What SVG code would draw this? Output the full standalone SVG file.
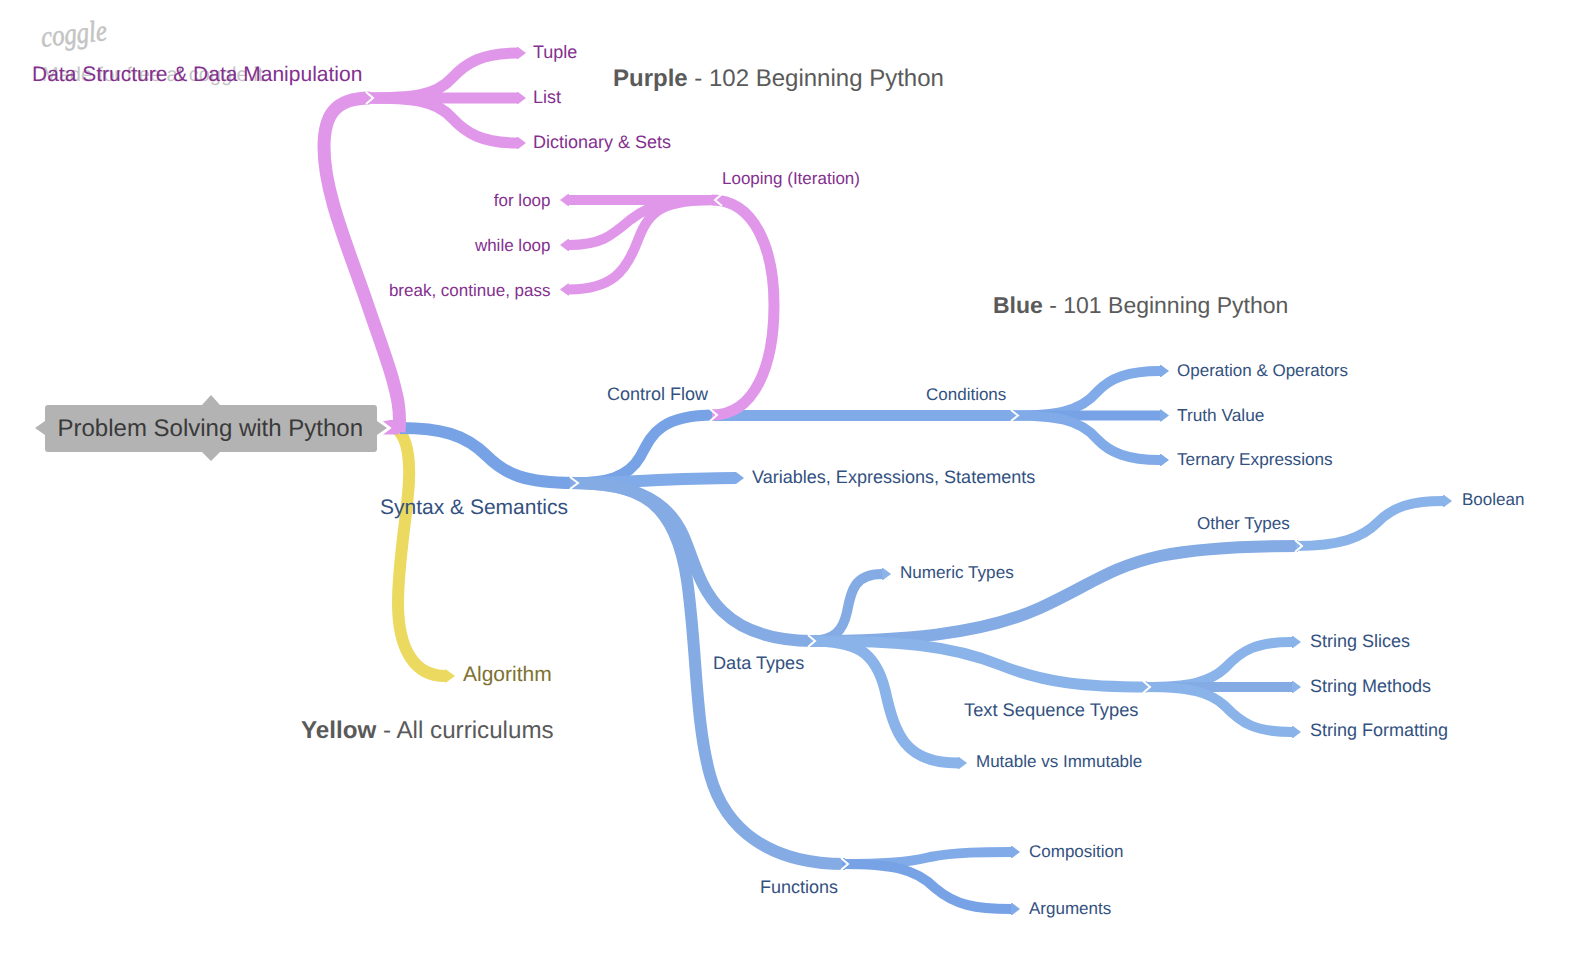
<svg xmlns="http://www.w3.org/2000/svg" width="1570" height="968" viewBox="0 0 1570 968">
<style>
text{font-family:"Liberation Sans",Arial,sans-serif;text-rendering:geometricPrecision}
.b{fill:none;stroke-linecap:butt}
.p{stroke:#e097ea}.y{stroke:#ecd960}
.b1{stroke:#77a3e6}.b2{stroke:#80aae8}.b3{stroke:#84abe4}.b4{stroke:#8ab3ea}
.n{fill:none;stroke:#fff;stroke-width:2}
.lp{fill:#84308f}.lb{fill:#33517f}.ly{fill:#7d7230}.note{fill:#5a5a5a}
</style>
<defs>
<marker id="mp" markerUnits="userSpaceOnUse" markerWidth="12" markerHeight="14" refX="0" refY="7" orient="auto"><path d="M0 1L1 1L9 7L1 13L0 13Z" fill="#e097ea"/></marker>
<marker id="my" markerUnits="userSpaceOnUse" markerWidth="12" markerHeight="14" refX="0" refY="7" orient="auto"><path d="M0 .5L1 .5L10 7L1 13.5L0 13.5Z" fill="#ecd960"/></marker>
<marker id="m1" markerUnits="userSpaceOnUse" markerWidth="12" markerHeight="14" refX="0" refY="7" orient="auto"><path d="M0 1L1 1L9 7L1 13L0 13Z" fill="#80aae8"/></marker>
<marker id="m3" markerUnits="userSpaceOnUse" markerWidth="12" markerHeight="14" refX="0" refY="7" orient="auto"><path d="M0 1L1 1L9 7L1 13L0 13Z" fill="#8ab3ea"/></marker>
</defs>

<g id="watermark">
<text x="42" y="47" font-size="30" font-style="italic" fill="#c4c4c4" stroke="#c4c4c4" stroke-width=".6" style="font-family:'Liberation Serif',serif" textLength="66" lengthAdjust="spacingAndGlyphs" transform="rotate(-6 42 47)">coggle</text>
<text x="42" y="81" font-size="20" fill="#c4c4c4">Made for free at coggle.it</text>
</g>

<g id="connectors">
<path class="b y" stroke-width="12" d="M396 428C406 436 410 455 409 480C408 510 398 560 398 603C398 650 415 676 445 676" marker-end="url(#my)"/>
<path class="b b1" stroke-width="12" d="M400 428C440 428 465 434 487 456C505 474 525 483 574 483"/>
<path class="b b1" stroke-width="11" d="M572 483C605 483 628 478 640 457C650 440 655 415 714 415"/>
<path class="b b2" stroke-width="12" d="M572 483C625 483 670 478 735 478" marker-end="url(#m1)"/>
<path class="b b2" stroke-width="11" d="M714 415.500L1014 415.500"/>
<path class="b b2" stroke-width="10" d="M1012 415.500C1055 415.500 1080 412 1097 392C1110 378 1128 371 1160 371" marker-end="url(#m1)"/>
<path class="b b1" stroke-width="10" d="M1012 415.500L1160 415.500" marker-end="url(#m1)"/>
<path class="b b2" stroke-width="10" d="M1012 415.500C1055 415.500 1080 419 1097 439C1110 453 1128 460 1160 460" marker-end="url(#m1)"/>
<path class="b b3" stroke-width="12" d="M570 483C625 483 665 495 683 535C700 572 705 640 812 641"/>
<path class="b b3" stroke-width="12" d="M570 483C640 483 675 500 687 580C697 650 695 720 710 775C725 830 770 864 845 864"/>
<path class="b b3" stroke-width="10" d="M810 641C835 641 843 630 847 612C851 590 855 574 882 574" marker-end="url(#m3)"/>
<path class="b b3" stroke-width="12" d="M810 641C900 641 980 635 1040 608C1090 585 1110 567 1160 556C1200 548 1250 546 1298 546"/>
<path class="b b4" stroke-width="10" d="M1296 546C1340 546 1362 538 1378 522C1393 507 1410 501 1443 501" marker-end="url(#m3)"/>
<path class="b b4" stroke-width="11" d="M810 641C900 641 950 645 1000 665C1045 683 1085 687 1147 687"/>
<path class="b b4" stroke-width="11" d="M810 641C855 641 875 650 885 690C895 735 905 763 958 763" marker-end="url(#m3)"/>
<path class="b b4" stroke-width="10" d="M1145 687C1190 687 1210 682 1225 668C1242 650 1256 642 1292 642" marker-end="url(#m3)"/>
<path class="b b3" stroke-width="10" d="M1145 687L1292 687" marker-end="url(#m3)"/>
<path class="b b4" stroke-width="10" d="M1145 687C1190 687 1210 692 1225 706C1242 724 1256 732 1292 732" marker-end="url(#m3)"/>
<path class="b b2" stroke-width="10" d="M842 864C880 864 905 863 930 857C955 852 985 852 1011 852" marker-end="url(#m1)"/>
<path class="b b1" stroke-width="10" d="M842 864C890 864 915 868 935 888C955 905 975 909 1011 909" marker-end="url(#m1)"/>
<path class="b p" stroke-width="13" d="M399 432C401 410 397 395 392 377C384 350 375 327 365 297C345 240 324 190 324 147C324 115 335 98 370 98"/>
<path class="b p" stroke-width="11" d="M366 98C412 98 436 96 452 78C466 63 482 53 517 53" marker-end="url(#mp)"/>
<path class="b p" stroke-width="11" d="M366 98L517 98" marker-end="url(#mp)"/>
<path class="b p" stroke-width="11" d="M366 98C412 98 436 100 452 118C466 133 482 143 517 143" marker-end="url(#mp)"/>
<path class="b p" stroke-width="11" d="M712 200C755 200 774 250 774 305C774 365 755 415 712 415"/>
<path class="b p" stroke-width="10" d="M718 200L569 200" marker-end="url(#mp)"/>
<path class="b p" stroke-width="10" d="M718 200C680 200 655 200 630 220C610 237 600 245 569 245" marker-end="url(#mp)"/>
<path class="b p" stroke-width="10" d="M718 200C665 200 650 208 638 240C626 272 612 289 569 289.500" marker-end="url(#mp)"/>
<path d="M382 421.500L390 428L382 434.500H398Q404 430 404 425L403 420H390Z" fill="#e097ea"/>
<polyline class="n" points="381,421 390,428 381,435"/>
<polyline class="n" points="366,92 373,98 366,104"/>
<polyline class="n" points="722,194 715,200 722,206"/>
<polyline class="n" points="710,409 717,415 710,421"/>
<polyline class="n" points="570,477 578,483 570,489"/>
<polyline class="n" points="1011,410 1018,415.500 1011,421"/>
<polyline class="n" points="808,635 815,641 808,647"/>
<polyline class="n" points="841,858 848,864 841,870"/>
<polyline class="n" points="1143,681 1150,687 1143,693"/>
<polyline class="n" points="1295,540 1302,546 1295,552"/>
</g>

<g id="root">
<path d="M211 395L220 405H374a3 3 0 0 1 3 3V421L387 428L377 435V449a3 3 0 0 1-3 3H220L211 461L202 452H48a3 3 0 0 1-3-3V435L35 428L45 421V408a3 3 0 0 1 3-3H202Z" fill="#b3b3b3"/>
<text x="57.500" y="436" font-size="24" fill="#3a3a3a">Problem Solving with Python</text>
</g>
<g id="n-dsdm"><text x="32" y="81" font-size="21" class="lp">Data Structure &amp; Data Manipulation</text></g>
<g id="n-tuple"><text x="533" y="58" font-size="18" class="lp">Tuple</text></g>
<g id="n-list"><text x="533" y="103" font-size="18" class="lp">List</text></g>
<g id="n-dict"><text x="533" y="148" font-size="18" class="lp">Dictionary &amp; Sets</text></g>
<g id="n-loop"><text x="722" y="184" font-size="17" class="lp">Looping (Iteration)</text></g>
<g id="n-for"><text x="550.500" y="206" font-size="17" text-anchor="end" class="lp">for loop</text></g>
<g id="n-while"><text x="550.500" y="251" font-size="17" text-anchor="end" class="lp">while loop</text></g>
<g id="n-break"><text x="550.500" y="296" font-size="17" text-anchor="end" class="lp">break, continue, pass</text></g>
<g id="n-syntax"><text x="380" y="514" font-size="21" class="lb">Syntax &amp; Semantics</text></g>
<g id="n-cf"><text x="607" y="400" font-size="18" class="lb">Control Flow</text></g>
<g id="n-cond"><text x="926" y="400" font-size="17" class="lb">Conditions</text></g>
<g id="n-op"><text x="1177" y="376" font-size="17" class="lb">Operation &amp; Operators</text></g>
<g id="n-truth"><text x="1177" y="421" font-size="17.300" class="lb">Truth Value</text></g>
<g id="n-tern"><text x="1177" y="465" font-size="17.200" class="lb">Ternary Expressions</text></g>
<g id="n-vars"><text x="752" y="483" font-size="18.050" class="lb">Variables, Expressions, Statements</text></g>
<g id="n-dt"><text x="713" y="669" font-size="18.100" class="lb">Data Types</text></g>
<g id="n-num"><text x="900" y="578" font-size="17.100" class="lb">Numeric Types</text></g>
<g id="n-other"><text x="1197" y="529" font-size="17.100" class="lb">Other Types</text></g>
<g id="n-bool"><text x="1462" y="505" font-size="17" class="lb">Boolean</text></g>
<g id="n-text"><text x="964" y="716" font-size="18.300" class="lb">Text Sequence Types</text></g>
<g id="n-slices"><text x="1310" y="647" font-size="18" class="lb">String Slices</text></g>
<g id="n-methods"><text x="1310" y="692" font-size="18" class="lb">String Methods</text></g>
<g id="n-format"><text x="1310" y="736" font-size="18" class="lb">String Formatting</text></g>
<g id="n-mut"><text x="976" y="767" font-size="17" class="lb">Mutable vs Immutable</text></g>
<g id="n-func"><text x="760" y="893" font-size="18" class="lb">Functions</text></g>
<g id="n-comp"><text x="1029" y="857" font-size="17" class="lb">Composition</text></g>
<g id="n-args"><text x="1029" y="914" font-size="17" class="lb">Arguments</text></g>
<g id="n-algo"><text x="463" y="681" font-size="21" class="ly">Algorithm</text></g>
<g id="note-purple"><text x="613" y="86" font-size="24" class="note"><tspan font-weight="bold">Purple</tspan> - 102 Beginning Python</text></g>
<g id="note-blue"><text x="993" y="313" font-size="23" class="note"><tspan font-weight="bold">Blue</tspan> - 101 Beginning Python</text></g>
<g id="note-yellow"><text x="301" y="738" font-size="24.200" class="note"><tspan font-weight="bold">Yellow</tspan> - All curriculums</text></g>
</svg>
